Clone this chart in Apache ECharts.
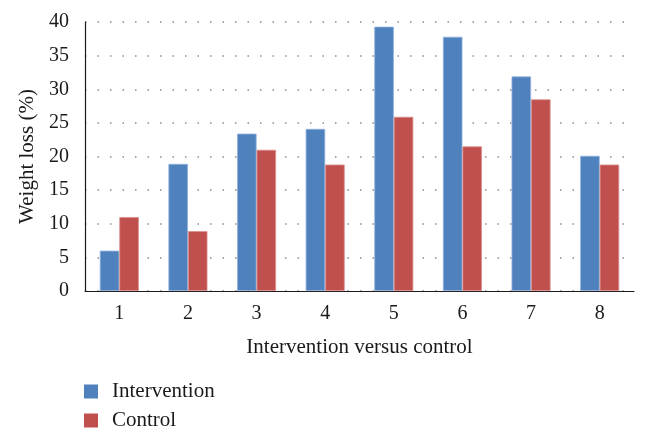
<!DOCTYPE html>
<html>
<head>
<meta charset="utf-8">
<script src="https://cdn.jsdelivr.net/npm/echarts@6/dist/echarts.min.js"></script>
<style>
html,body{margin:0;padding:0;background:#fff;}
#chart{width:648px;height:439px;}
</style>
</head>
<body>
<div id="chart"></div>
<script>
const categories = ['1','2','3','4','5','6','7','8'];
const intervention = [6.0, 18.9, 23.4, 24.1, 39.3, 37.8, 31.9, 20.1];
const control = [11.0, 8.9, 21.0, 18.8, 25.9, 21.5, 28.5, 18.8];
const seriesNames = ['Intervention', 'Control'];
const yTicks = {min: 0, max: 40, interval: 5};
const xAxisTitle = 'Intervention versus control';
const yAxisTitle = 'Weight loss (%)';

const FONT = "'Liberation Serif', 'DejaVu Serif', serif";
const legendText = {fontFamily: FONT, fontSize: 21, color: '#1a1a1a', padding: [0,0,0,9]};
function legendFor(name, top) {
  return {
    data: [name],
    orient: 'vertical',
    left: 84, top: top,
    padding: 0,
    itemWidth: 14, itemHeight: 14,
    icon: 'rect',
    itemStyle: {borderWidth: 0},
    textStyle: legendText
  };
}
const chart = echarts.init(document.getElementById('chart'), null, {renderer: 'canvas'});
chart.setOption({
  animation: false,
  backgroundColor: '#ffffff',
  textStyle: {fontFamily: FONT, color: '#1a1a1a'},
  grid: {left: 85, right: 14, top: 22, bottom: 148, containLabel: false},
  legend: [legendFor(seriesNames[0], 381), legendFor(seriesNames[1], 410)],
  xAxis: {
    type: 'category',
    data: categories,
    name: xAxisTitle,
    nameLocation: 'middle',
    nameGap: 46,
    nameTextStyle: {fontFamily: FONT, fontSize: 21, color: '#1a1a1a'},
    axisLine: {lineStyle: {color: '#1a1a1a', width: 1.2}},
    axisTick: {show: false},
    axisLabel: {fontFamily: FONT, fontSize: 20, color: '#1a1a1a', margin: 13},
    splitLine: {show: false}
  },
  yAxis: {
    type: 'value',
    min: yTicks.min, max: yTicks.max, interval: yTicks.interval,
    name: yAxisTitle,
    nameLocation: 'middle',
    nameGap: 47,
    nameRotate: 90,
    nameTextStyle: {fontFamily: FONT, fontSize: 21, color: '#1a1a1a'},
    axisLine: {show: true, lineStyle: {color: '#1a1a1a', width: 1.2}},
    axisTick: {show: false},
    axisLabel: {fontFamily: FONT, fontSize: 20, color: '#1a1a1a', margin: 16},
    splitLine: {show: true, lineStyle: {color: '#8a8a8a', width: 1.5, type: [1.5, 11]}}
  },
  series: [
    {
      name: seriesNames[0], type: 'bar', data: intervention,
      barWidth: 19.5, barGap: '0%',
      itemStyle: {color: '#4F81BD', borderColor: '#8FB0DC', borderWidth: 0.8}
    },
    {
      name: seriesNames[1], type: 'bar', data: control,
      barWidth: 19.5, barGap: '0%',
      itemStyle: {color: '#C0504D', borderColor: '#DB8E8C', borderWidth: 0.8}
    }
  ]
});
</script>
</body>
</html>
